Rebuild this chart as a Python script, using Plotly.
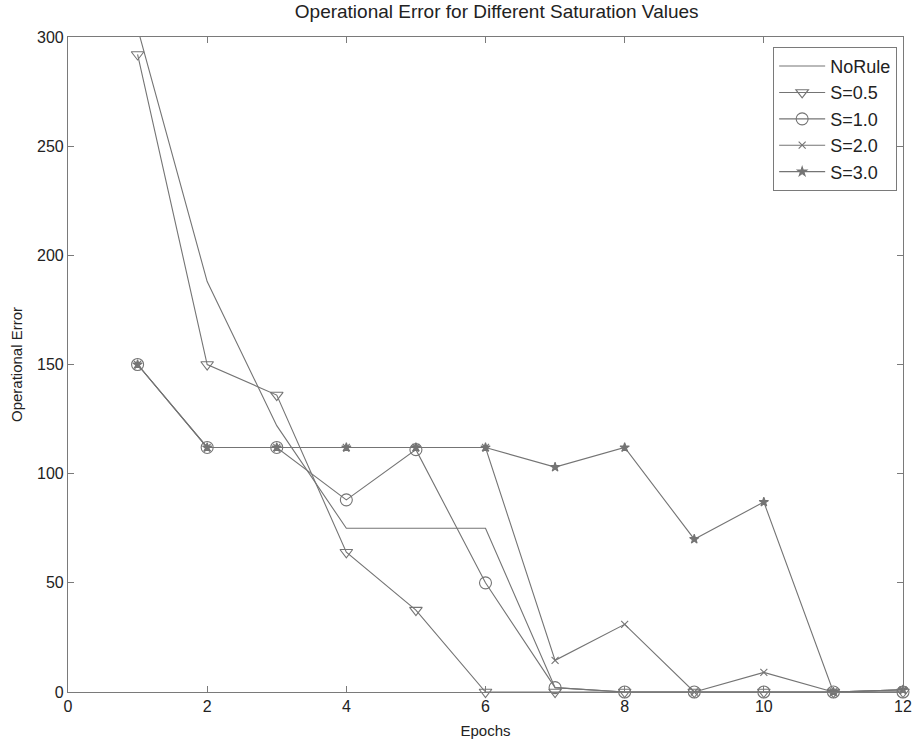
import plotly.graph_objects as go

# Training epochs and operational error per rule setting
epochs = [1, 2, 3, 4, 5, 6, 7, 8, 9, 10, 11, 12]
no_rule = [304, 188, 122, 75, 75, 75, 2, 0, 0, 0, 0, 1]
s_05 = [292, 150, 136, 64, 37.5, 0, 0, 0, 0, 0, 0, 0]
s_10 = [150, 112, 112, 88, 111, 50, 2, 0, 0, 0, 0, 0]
s_20 = [150, 112, 112, 112, 112, 112, 14.5, 31, 0, 9, 0, 1]
s_30 = [150, 112, 112, 112, 112, 112, 103, 112, 70, 87, 0, 1]

x_ticks = [0, 2, 4, 6, 8, 10, 12]
y_ticks = [0, 50, 100, 150, 200, 250, 300]

LINE = "#747474"
FONT = "Liberation Sans, Arial, sans-serif"

series = [
    ("NoRule", no_rule, None, 0),
    ("S=0.5", s_05, "triangle-down-open", 11),
    ("S=1.0", s_10, "circle-open", 12),
    ("S=2.0", s_20, "x-thin-open", 7),
    ("S=3.0", s_30, "star", 7),
]

fig = go.Figure()
for name, vals, sym, size in series:
    if sym is None:
        fig.add_trace(go.Scatter(
            x=epochs, y=vals, name=name, mode="lines",
            line=dict(color=LINE, width=1.1),
        ))
    else:
        fig.add_trace(go.Scatter(
            x=epochs, y=vals, name=name, mode="lines+markers",
            line=dict(color=LINE, width=1.1),
            marker=dict(symbol=sym, size=size, color=LINE,
                        line=dict(color=LINE, width=1.1)),
            cliponaxis=False,
        ))

axis_common = dict(
    showgrid=False, zeroline=False,
    showline=True, linecolor="#7a7a7a", linewidth=1.2, mirror="ticks",
    ticks="inside", ticklen=6, tickcolor="#7a7a7a", tickwidth=1,
    tickfont=dict(family=FONT, size=16, color="#222"),
)

fig.update_layout(
    width=913, height=742,
    margin=dict(l=68, r=10, t=37, b=50, autoexpand=False),
    paper_bgcolor="white", plot_bgcolor="white",
    title=dict(text="Operational Error for Different Saturation Values",
               x=0.544, xanchor="center", y=0.993, yanchor="top",
               font=dict(family=FONT, size=19, color="#222")),
    xaxis=dict(range=[0, 12], tickvals=x_ticks,
               title=dict(text="Epochs", standoff=11,
                          font=dict(family=FONT, size=15, color="#222")),
               **axis_common),
    yaxis=dict(range=[0, 300], tickvals=y_ticks,
               title=dict(text="Operational Error", standoff=10,
                          font=dict(family=FONT, size=15, color="#222")),
               **axis_common),
    legend=dict(x=0.993, y=0.985, xanchor="right", yanchor="top",
                bgcolor="white", bordercolor="#7a7a7a", borderwidth=1,
                font=dict(family=FONT, size=18, color="#222"),
                tracegroupgap=0, itemwidth=46),
    showlegend=True,
)

fig.write_html("out.html")
